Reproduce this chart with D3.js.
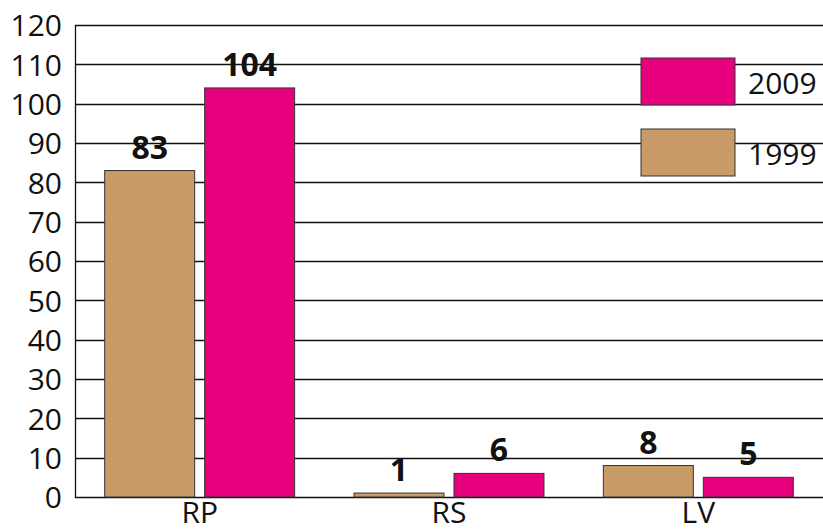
<!DOCTYPE html>
<html><head><meta charset="utf-8">
<script src="https://cdn.jsdelivr.net/npm/d3@7"></script>
<style>html,body{margin:0;padding:0;background:#fff;}svg{display:block;}</style>
</head><body>
<svg id="chart" width="823" height="531"></svg>
<script>
const categories = ["RP", "RS", "LV"];
const seriesNames = ["1999", "2009"];
const values1999 = [83, 1, 8];
const values2009 = [104, 6, 5];
const yTicks = [0, 10, 20, 30, 40, 50, 60, 70, 80, 90, 100, 110, 120];
const colors = {"1999": "#C89B68", "2009": "#E6007E"};

(function () {
const seriesValues = {"1999": values1999, "2009": values2009};
const svg = d3.select("#chart");
const font = "'Open Sans', 'Noto Sans', sans-serif";
const mLeft = 75, mRight = 823, mTop = 25, mBottom = 497;

const y = d3.scaleLinear().domain([0, 120]).range([mBottom, mTop]);
const x0 = d3.scaleBand().domain(categories).range([mLeft, mRight]).padding(0);
const x1 = d3.scaleBand().domain(seriesNames).range([0, x0.bandwidth()])
  .paddingInner(0.1).paddingOuter(0.297);

// gridlines
svg.append("g").selectAll("line").data(yTicks).join("line")
  .attr("x1", mLeft).attr("x2", mRight)
  .attr("y1", d => Math.round(y(d)) + 0.5).attr("y2", d => Math.round(y(d)) + 0.5)
  .attr("stroke", "#111").attr("stroke-width", 1.3);

// left axis line
svg.append("line").attr("x1", mLeft + 0.5).attr("x2", mLeft + 0.5)
  .attr("y1", y(120)).attr("y2", y(0) + 1)
  .attr("stroke", "#111").attr("stroke-width", 1.3);

// y tick labels
const yAxis = d3.axisLeft(y).tickValues(yTicks).tickSize(0).tickPadding(13);
const ya = svg.append("g").attr("transform", `translate(${mLeft},0)`).call(yAxis);
ya.select(".domain").remove();
ya.selectAll("text").attr("font-family", font).attr("font-size", 30).attr("fill", "#111")
  .attr("dy", "0.36em");

// bars
const data = [];
categories.forEach((c, i) => seriesNames.forEach(s => data.push({c, s, v: seriesValues[s][i]})));

svg.append("g").selectAll("rect").data(data).join("rect")
  .attr("x", d => x0(d.c) + x1(d.s))
  .attr("width", x1.bandwidth())
  .attr("y", d => y(d.v))
  .attr("height", d => y(0) - y(d.v))
  .attr("fill", d => colors[d.s])
  .attr("stroke", "#333").attr("stroke-width", 1);

// value labels
svg.append("g").selectAll("text").data(data).join("text")
  .attr("x", d => x0(d.c) + x1(d.s) + x1.bandwidth() / 2)
  .attr("y", d => y(d.v) - 12)
  .attr("text-anchor", "middle")
  .attr("font-family", font).attr("font-weight", "bold").attr("font-size", 32)
  .attr("fill", "#111")
  .text(d => d.v);

// x category labels
const xAxis = d3.axisBottom(x0).tickSize(0).tickPadding(5);
const xa = svg.append("g").attr("transform", `translate(0,${mBottom})`).call(xAxis);
xa.select(".domain").remove();
xa.selectAll("text").attr("font-family", font).attr("font-size", 30).attr("fill", "#111");

// legend
const legendItems = ["2009", "1999"];
const lg = svg.append("g").selectAll("g").data(legendItems).join("g")
  .attr("transform", (d, i) => `translate(641,${58 + i * 71})`);
lg.append("rect").attr("width", 94).attr("height", 47)
  .attr("fill", d => colors[d]).attr("stroke", "#333").attr("stroke-width", 1);
lg.append("text").attr("x", 107).attr("y", 36)
  .attr("font-family", font).attr("font-size", 30).attr("fill", "#111")
  .text(d => d);
})();
</script>
</body></html>
